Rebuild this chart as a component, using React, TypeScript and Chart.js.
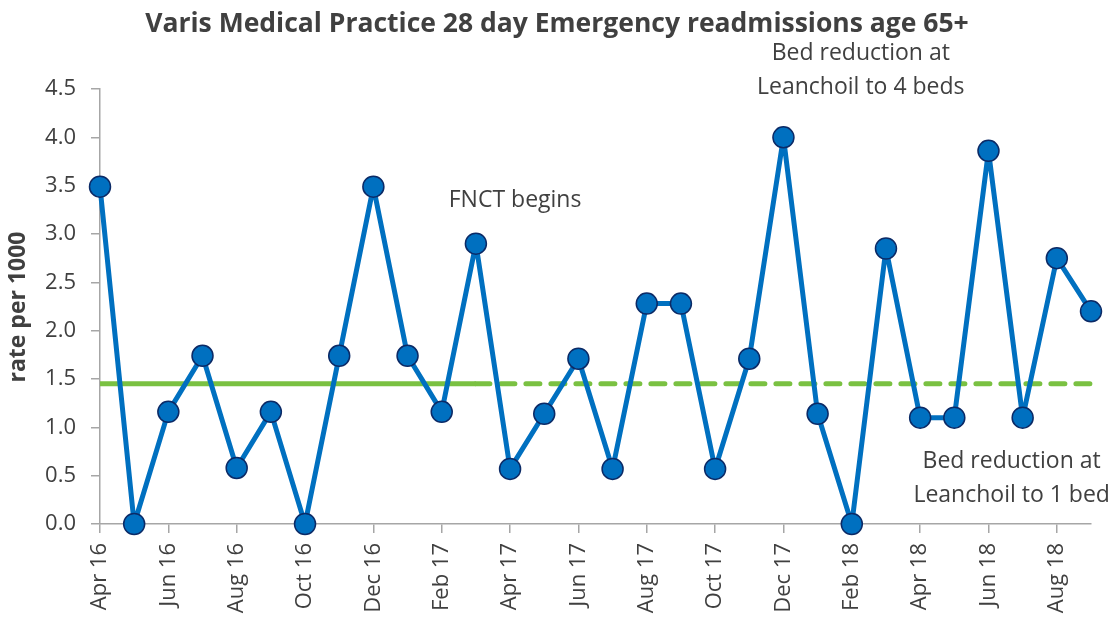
import React, { useEffect, useRef } from "react";
import { Chart, registerables } from "chart.js";

Chart.register(...registerables);

const months: string[] = [
  "Apr 16", "May 16", "Jun 16", "Jul 16", "Aug 16", "Sep 16", "Oct 16", "Nov 16", "Dec 16",
  "Jan 17", "Feb 17", "Mar 17", "Apr 17", "May 17", "Jun 17", "Jul 17", "Aug 17", "Sep 17",
  "Oct 17", "Nov 17", "Dec 17", "Jan 18", "Feb 18", "Mar 18", "Apr 18", "May 18", "Jun 18",
  "Jul 18", "Aug 18", "Sep 18",
];

const rates: number[] = [
  3.49, 0, 1.16, 1.74, 0.58, 1.16, 0, 1.74, 3.49,
  1.74, 1.16, 2.9, 0.57, 1.14, 1.71, 0.57, 2.28, 2.28,
  0.57, 1.71, 4.0, 1.14, 0, 2.85, 1.1, 1.1, 3.86,
  1.1, 2.75, 2.2,
];

const medianValue = 1.45;
const medianSolidEnd = 11; // Mar 17
const medianSolid: (number | null)[] = months.map((_, i) => (i <= medianSolidEnd ? medianValue : null));
const medianDashed: (number | null)[] = months.map((_, i) => (i >= medianSolidEnd ? medianValue : null));

const titleText = "Varis Medical Practice 28 day Emergency readmissions age 65+";
const yAxisTitle = "rate per 1000";
const annotations: { lines: string[]; index: number; value: number; dx: number }[] = [
  { lines: ["FNCT begins"], index: 12, value: 3.35, dx: 5 },
  { lines: ["Bed reduction at", "Leanchoil to 4 beds"], index: 22, value: 4.87, dx: 9 },
  { lines: ["Bed reduction at", "Leanchoil to 1 bed"], index: 27, value: 0.65, dx: -11 },
];

const TEXT = "#404040";
const AXIS = "#a6a6a6";
const FONT = "'Open Sans', sans-serif";

export default function App() {
  const ref = useRef<HTMLCanvasElement | null>(null);

  useEffect(() => {
    if (!ref.current) return;
    const overlay = {
      id: "overlay",
      afterDraw(chart: any) {
        const ctx = chart.ctx;
        const xs = chart.scales.x;
        const ys = chart.scales.y;
        ctx.save();
        ctx.fillStyle = TEXT;
        ctx.textAlign = "center";
        ctx.textBaseline = "middle";
        ctx.font = `bold 26.5px ${FONT}`;
        ctx.fillText(titleText, 557, 24);
        ctx.font = `23px ${FONT}`;
        annotations.forEach((a) => {
          const x = xs.getPixelForValue(a.index) + a.dx;
          const y = ys.getPixelForValue(a.value);
          a.lines.forEach((l, k) => ctx.fillText(l, x, y + k * 34));
        });
        ctx.translate(18, 307);
        ctx.rotate(-Math.PI / 2);
        ctx.font = `bold 23px ${FONT}`;
        ctx.fillText(yAxisTitle, 0, 0);
        ctx.restore();
      },
    };

    const chart = new Chart(ref.current, {
      type: "line",
      data: {
        labels: months,
        datasets: [
          {
            data: rates,
            borderColor: "#0070c0",
            borderWidth: 5,
            borderJoinStyle: "round",
            backgroundColor: "#0070c0",
            pointBackgroundColor: "#0070c0",
            pointBorderColor: "#0b2a66",
            pointBorderWidth: 1.5,
            pointRadius: 10.5,
            tension: 0,
            clip: false,
          } as any,
          {
            data: medianSolid,
            borderColor: "#7ac142",
            borderWidth: 5,
            pointRadius: 0,
            spanGaps: false,
            clip: false,
          } as any,
          {
            data: medianDashed,
            borderColor: "#7ac142",
            borderWidth: 5,
            borderDash: [14, 11],
            borderCapStyle: "round",
            pointRadius: 0,
            spanGaps: false,
            clip: false,
          } as any,
        ],
      },
      options: {
        animation: false,
        responsive: false,
        maintainAspectRatio: false,
        events: [],
        layout: { padding: { top: 89, right: 23, left: 0, bottom: 0 } },
        plugins: {
          legend: { display: false },
          title: { display: false },
          tooltip: { enabled: false },
        },
        scales: {
          x: {
            type: "category",
            offset: false,
            grid: {
              drawOnChartArea: false,
              drawTicks: true,
              tickLength: 9,
              lineWidth: 1.5,
              color: (c: any) => (c.index % 2 === 0 ? AXIS : "rgba(0,0,0,0)"),
            },
            border: { color: AXIS, width: 1.5 },
            ticks: {
              autoSkip: false,
              maxRotation: 90,
              minRotation: 90,
              padding: 10,
              color: TEXT,
              font: { family: FONT, size: 22 },
              callback: (_v: any, i: number) => (i % 2 === 0 ? months[i] : ""),
            },
            afterFit: (s: any) => {
              s.height = 93;
              s.paddingLeft = 0;
              s.paddingRight = 0;
            },
          },
          y: {
            min: 0,
            max: 4.5,
            grid: {
              drawOnChartArea: false,
              drawTicks: true,
              tickLength: 9,
              lineWidth: 1.5,
              color: AXIS,
            },
            border: { color: AXIS, width: 1.5 },
            ticks: {
              stepSize: 0.5,
              padding: 15,
              color: TEXT,
              font: { family: FONT, size: 22 },
              callback: (v: any) => Number(v).toFixed(1),
            },
            afterFit: (s: any) => {
              s.width = 100;
              s.paddingTop = 0;
              s.paddingBottom = 0;
            },
          },
        },
      } as any,
      plugins: [overlay],
    });
    return () => chart.destroy();
  }, []);

  return (
    <div style={{ position: "absolute", left: 0, top: 0, width: 1114, height: 617, background: "#fff" }}>
      <canvas ref={ref} width={1114} height={617} style={{ width: 1114, height: 617 }} />
    </div>
  );
}
